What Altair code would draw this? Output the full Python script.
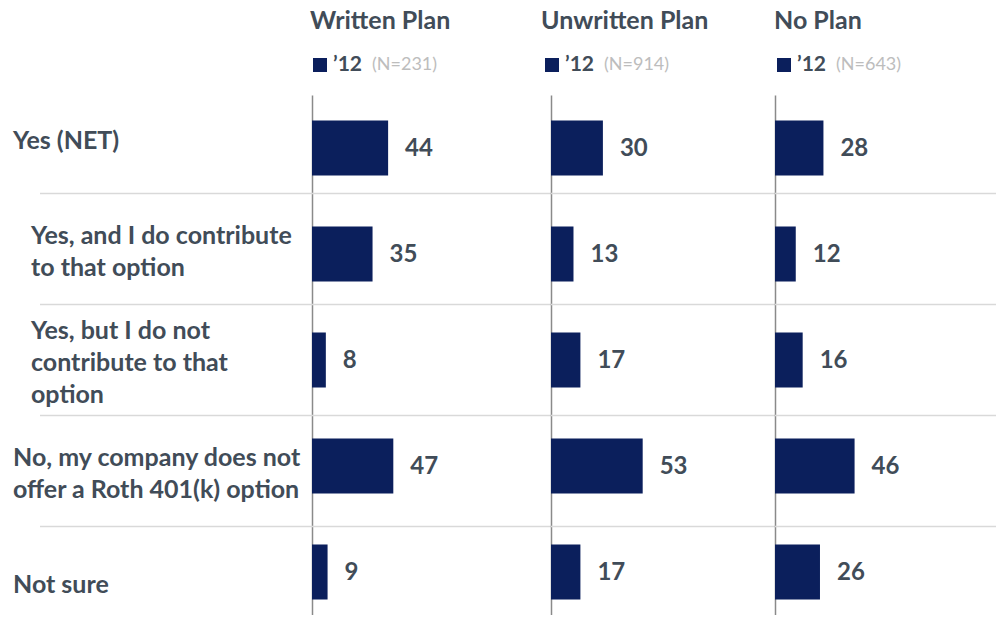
import altair as alt
import pandas as pd

# ---- data ----
row_keys = ["yes_net", "yes_contrib", "yes_nocontrib", "no_offer", "not_sure"]
row_labels = [
    "Yes (NET)",
    "Yes, and I do contribute\nto that option",
    "Yes, but I do not\ncontribute to that\noption",
    "No, my company does not\noffer a Roth 401(k) option",
    "Not sure",
]
indented_rows = ["yes_contrib", "yes_nocontrib"]
panels = ["Written Plan", "Unwritten Plan", "No Plan"]
sample_n = ["(N=231)", "(N=914)", "(N=643)"]
year_label = "\u201912"
written = [44, 35, 8, 47, 9]
unwritten = [30, 13, 17, 53, 17]
noplan = [28, 12, 16, 46, 26]
series = [written, unwritten, noplan]

# ---- style ----
NAVY = "#0b1f5c"
TXT = "#414c58"
GRAYN = "#bdbdbd"
SEP = "#d9d9d9"
FONT = "Lato"
PX_PER_UNIT = 1.73
HEIGHT = 520
LINE_H = 32

panel_widths = [239, 224, 221]
header_dx = [-2, -10, -1]
legend_dx = [1, -6, 2]


def make_panel(i):
    name, nlab, vals, width = panels[i], sample_n[i], series[i], panel_widths[i]
    df = pd.DataFrame({"row": row_keys, "value": vals, "label": row_labels})
    df["nlines"] = df["label"].str.count("\n") + 1
    df["indent"] = df["row"].isin(indented_rows)
    bar_scale = alt.Scale(domain=row_keys, paddingInner=0.481, paddingOuter=0.1934, align=0.622)
    xs = alt.X("value:Q", scale=alt.Scale(domain=[0, width / PX_PER_UNIT]), axis=None)
    base = alt.Chart(df)
    bars = base.mark_bar(color=NAVY).encode(
        x=xs,
        y=alt.Y(
            "row:N",
            sort=row_keys,
            scale=bar_scale,
            axis=alt.Axis(
                title=None, labels=False, ticks=False, grid=False,
                domain=True, domainColor="#8a8a8a", domainWidth=1.5,
            ),
        ),
    )
    nums = base.mark_text(
        align="left", baseline="middle", dx=17, dy=1, font=FONT, fontSize=24,
        fontWeight="bold", color=TXT,
    ).encode(x=xs, y=alt.Y("row:N", sort=row_keys), text="value:Q")
    bar_layer = alt.layer(bars, nums)

    table_scale = alt.Scale(domain=row_keys, range=[-12.5, 542.5], paddingInner=0, paddingOuter=0)
    sep_df = pd.DataFrame({"row": row_keys[1:]})
    x_start = -272 if i == 0 else 0
    seps = alt.Chart(sep_df).mark_rule(color=SEP, strokeWidth=1.6).encode(
        y=alt.Y("row:N", sort=row_keys, scale=table_scale, axis=None, bandPosition=0),
        x=alt.value(x_start),
        x2=alt.value(width),
    )
    table_layers = [seps]
    if i == 0:
        ty = alt.Y("row:N", sort=row_keys, scale=table_scale, axis=None)
        combos = sorted(set(zip(df["indent"], df["nlines"])))
        for indent, nl in combos:
            sel = df[(df["indent"] == indent) & (df["nlines"] == nl)]["row"].tolist()
            layer = base.transform_filter(
                alt.FieldOneOfPredicate(field="row", oneOf=sel)
            ).mark_text(
                align="left", baseline="middle", font=FONT, fontSize=25,
                fontWeight="bold", color=TXT, lineBreak="\n", lineHeight=LINE_H,
                dy=2.5 - (int(nl) - 1) * LINE_H / 2,
            ).encode(y=ty, x=alt.value(-281 if indent else -299), text="label:N")
            table_layers.append(layer)
    table_layer = alt.layer(*table_layers)

    hdr_df = pd.DataFrame({"t": [name], "y": [year_label], "n": [nlab]})
    hdr = alt.Chart(hdr_df)
    header = hdr.mark_text(
        align="left", baseline="middle", font=FONT, fontSize=25,
        fontWeight="bold", color=TXT,
    ).encode(x=alt.value(header_dx[i]), y=alt.value(-74), text="t:N")
    sq = hdr.mark_square(size=196, color=NAVY, opacity=1).encode(
        x=alt.value(legend_dx[i] + 7), y=alt.value(-30)
    )
    yr = hdr.mark_text(
        align="left", baseline="middle", font=FONT, fontSize=21,
        fontWeight="bold", color=TXT,
    ).encode(x=alt.value(legend_dx[i] + 20), y=alt.value(-30), text="y:N")
    nn = hdr.mark_text(
        align="left", baseline="middle", font=FONT, fontSize=18, color=GRAYN,
    ).encode(x=alt.value(legend_dx[i] + 59), y=alt.value(-30), text="n:N")

    return (
        alt.layer(bar_layer, table_layer, header, sq, yr, nn)
        .resolve_scale(y="independent")
        .properties(width=width, height=HEIGHT)
    )


chart = (
    alt.hconcat(*[make_panel(i) for i in range(3)], spacing=0, bounds="flush")
    .properties(padding={"left": 5, "top": 1, "right": 0, "bottom": 0})
    .configure_view(stroke=None)
)

chart.save("out.html", embed_options={"renderer": "svg", "actions": False})
